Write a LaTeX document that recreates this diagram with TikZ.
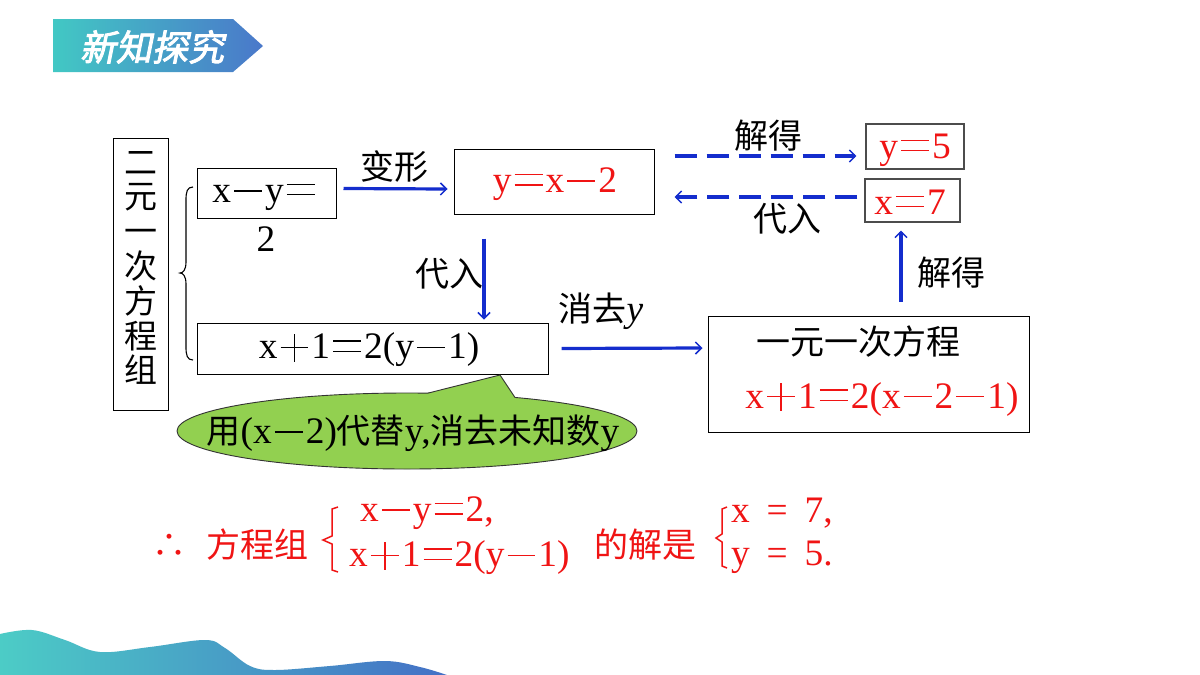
\documentclass[tikz,border=0pt]{standalone}
\usepackage{fontspec}
\setmainfont{Liberation Serif}
\newfontfamily\cjk{Noto Sans CJK SC}
\newfontfamily\latn[Scale=1.1]{Liberation Serif}
\newfontfamily\cjkban[FakeBold=2.5,FakeSlant=0.2]{Noto Sans CJK SC}
\usetikzlibrary{arrows.meta,calc,shapes.geometric}
\definecolor{ablue}{RGB}{20,45,205}
\definecolor{cgreen}{RGB}{146,208,80}
\definecolor{tealA}{RGB}{66,200,196}
\definecolor{blueA}{RGB}{74,120,202}
\definecolor{tealB}{RGB}{76,204,198}
\definecolor{blueB}{RGB}{68,112,198}
\definecolor{rd}{RGB}{240,20,20}
\newcommand\la[1]{{\latn #1}}
\newcommand\fwm{\hbox to 1em{\hss\rule[0.31em]{0.82em}{0.045em}\hss}}
\newcommand\fwe{\hbox to 1em{\hss\rlap{\rule[0.5em]{0.82em}{0.045em}}\rule[0.2em]{0.82em}{0.045em}\hss}}
\newcommand\fwp{\hbox to 1em{\hss\rlap{\rule[0.31em]{0.82em}{0.045em}}\hbox to 0.82em{\hss\rule[-0.08em]{0.045em}{0.82em}\hss}\hss}}
\tikzset{
  base/.style={font=\cjk\fontsize{34}{38}\selectfont, inner sep=0pt},
  rtxt/.style={base, text=rd},
  box/.style={draw=black, line width=1pt, inner sep=0pt},
  gbox/.style={draw=black!70, line width=1.2pt, inner sep=0pt},
  arr/.style={draw=ablue, line width=3.2pt, -{Straight Barb[length=6pt,width=12pt,line width=1.5pt]}},
  darr/.style={arr, dash pattern=on 22pt off 10pt},
}
\begin{document}
\begin{tikzpicture}[x=1pt,y=-1pt]
\useasboundingbox (0,0) rectangle (1200,675);
\fill[white] (0,0) rectangle (1200,675);
% banner
\shade[left color=tealA, right color=blueA] (53,19) -- (233,19) -- (263,46) -- (233,72) -- (53,72) -- cycle;
\node[inner sep=0pt, text=white, font=\cjkban\fontsize{36}{38}\selectfont] (title) at (152,47) {新知探究};
% wave
\shade[left color=tealB, right color=blueB] (0,675) -- plot[smooth, tension=0.6] coordinates {(0,634) (32,630) (65,640) (100,652) (150,647) (205,640) (225,648) (250,666) (275,670) (330,666) (385,661) (420,667) (447,675)} -- cycle;

% system box
\node[box, minimum width=55pt, minimum height=272pt] (sys) at (140.5,274) {};
\node[inner sep=0pt, align=center, font=\cjk\fontsize{33}{34.8}\selectfont] (systxt) at (141,268) {二\\元\\一\\次\\方\\程\\组};
% big brace
\draw[line width=1.1pt] (193,187) .. controls (187,187) and (186,192) .. (186,200) -- (186,262) .. controls (186,270) and (183,273) .. (180,273) .. controls (183,273) and (186,276) .. (186,284) -- (186,347) .. controls (186,355) and (187,360) .. (193,360);

% boxes
\node[box, minimum width=139pt, minimum height=50pt] (b1) at (266.5,193) {};
\node[base] (b1t) at (265,197) {\la{x}\fwm\la{y}\fwe};
\node[base] (b1two) at (266,239) {\la{2}};
\node[box, minimum width=200pt, minimum height=65pt] (b2) at (554,181.5) {};
\node[rtxt] (b2t) at (555,184) {\la{y}\fwe\la{x}\fwm\la{2}};
\node[box, minimum width=351pt, minimum height=51pt] (b3) at (372.5,348.5) {};
\node[base] (b3t) at (369,350) {\la{x}\fwp\la{1}\fwe\la{2(y}\fwm\la{1)}};
\node[box, minimum width=321pt, minimum height=116pt] (b4) at (868.5,374) {};
\node[base] (b4a) at (858,342) {一元一次方程};
\node[rtxt] (b4b) at (882,399) {\la{x}\fwp\la{1}\fwe\la{2(x}\fwm\la{2}\fwm\la{1)}};
\node[gbox, minimum width=98pt, minimum height=45pt] (b5) at (915,146.5) {};
\node[rtxt] (b5t) at (915,150) {\la{y}\fwe\la{5}};
\node[gbox, minimum width=95pt, minimum height=43pt] (b6) at (912.5,200.5) {};
\node[rtxt] (b6t) at (910,202) {\la{x}\fwe\la{7}};

% arrows
\draw[arr] ($(b1.east)+(7,-4.5)$) -- ($(b2.west)+(-6,7.5)$);
\node[base] (l1) at (394,167) {变形};
\draw[arr] ($(b2.south)+(-70,24)$) -- ($(b3.north)+(111.5,-3)$);
\node[base] (l2) at (449,274) {代入};
\draw[arr] ($(b3.east)+(13,0)$) -- ($(b4.west)+(-5,-26)$);
\node[base] (l3) at (601,311) {消去\la{\itshape y}};
\draw[arr] ($(b4.north)+(32.5,-14)$) -- ($(b6.south)+(-11.5,8)$);
\node[base] (l4) at (951,273) {解得};
\draw[darr] ($(b2.east)+(20,-25.5)$) -- ($(b5.west)+(-9,9.5)$);
\node[base] (l5) at (768,136) {解得};
\draw[darr] ($(b6.west)+(-7,-3.5)$) -- ($(b2.east)+(20,15.5)$);
\node[base] (l6) at (787,219) {代入};

% callout
\node[ellipse, draw=black!80, line width=0.9pt, fill=cgreen, minimum width=460pt, minimum height=76pt, inner sep=0pt] (callout) at (407,431) {};
\fill[cgreen] (428,393.1) -- (500,375) -- (515,397.5) -- (515,404) -- (428,400) -- cycle;
\draw[black!80, line width=0.9pt] (428,393.1) -- (500,375) -- (515,397.5);
\node[base] (calltxt) at (413,433) {用\la{(x}\fwm\la{2)}代替\la{y,}消去未知数\la{y}};

% conclusion
\node[rtxt] (therefore) at (169,546) {∴};
\node[rtxt] (fcz) at (257,545) {方程组};
\draw[rd, line width=1.5pt] (338,507) -- (332,509) -- (332,536) -- (323,540) -- (332,544) -- (332,570) -- (338,572);
\node[rtxt, anchor=west] (eq1) at (360,513) {\la{x}\fwm\la{y}\fwe\la{2,}};
\node[rtxt, anchor=west] (eq2) at (349,558) {\la{x}\fwp\la{1}\fwe\la{2(y}\fwm\la{1)}};
\node[rtxt] (djs) at (645,545) {的解是};
\draw[rd, line width=1.5pt] (727,507) -- (722,509) -- (722,534) -- (716,538) -- (722,542) -- (722,566) -- (727,568);
\node[rtxt, anchor=west] (s1) at (731,513) {\la{x\hspace{0.45em}=\hspace{0.45em}7,}};
\node[rtxt, anchor=west] (s2) at (731,557) {\la{y\hspace{0.45em}=\hspace{0.45em}5.}};
\end{tikzpicture}
\end{document}
